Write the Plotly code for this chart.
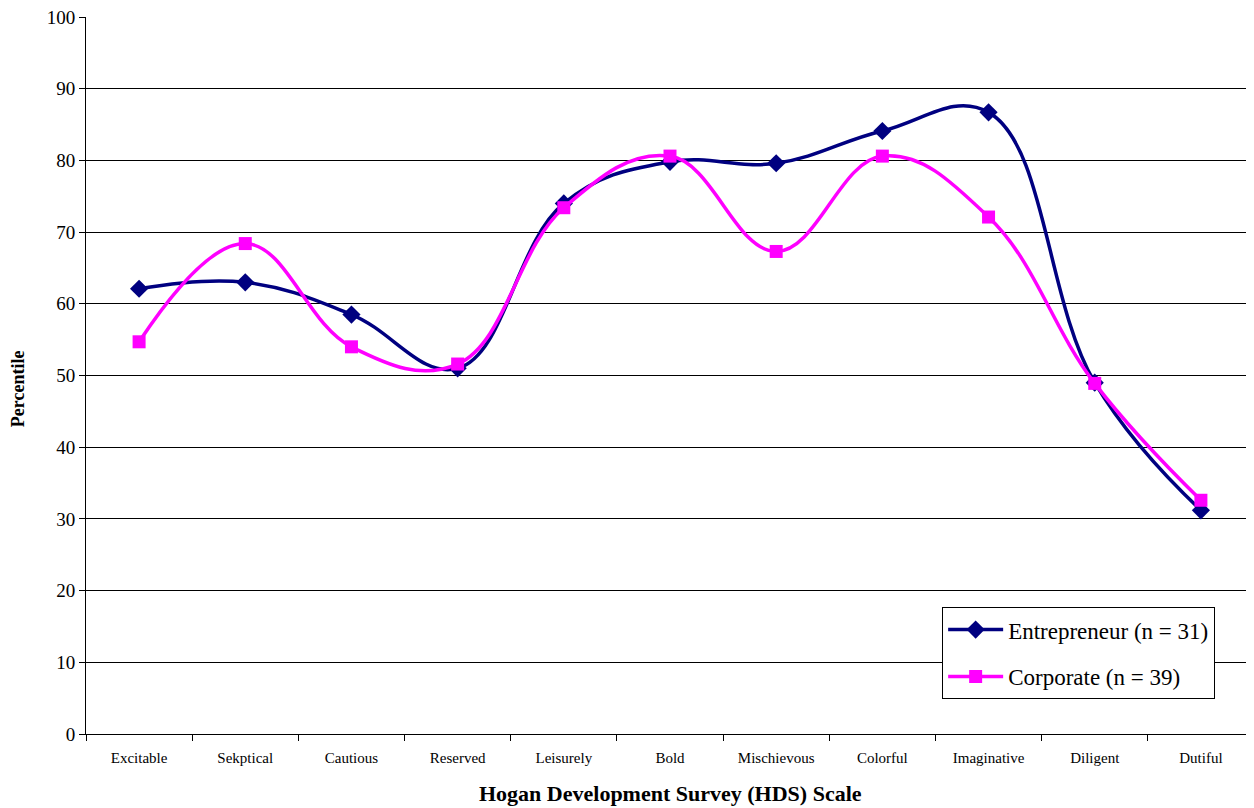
import plotly.graph_objects as go

categories = ["Excitable", "Sekptical", "Cautious", "Reserved", "Leisurely", "Bold",
              "Mischievous", "Colorful", "Imaginative", "Diligent", "Dutiful"]
entrepreneur = [62.1, 63.0, 58.5, 51.0, 74.0, 79.8, 79.6, 84.1, 86.7, 49.0, 31.2]
corporate = [54.7, 68.4, 54.0, 51.6, 73.4, 80.6, 67.3, 80.6, 72.1, 48.9, 32.6]
y_ticks = [0, 10, 20, 30, 40, 50, 60, 70, 80, 90, 100]

FONT = "Liberation Serif, Times New Roman, serif"

fig = go.Figure()
fig.add_trace(go.Scatter(
    x=categories, y=entrepreneur, name="Entrepreneur (n = 31)",
    mode="lines+markers", legendgroup="e",
    line=dict(color="#000080", width=3.5, shape="spline", smoothing=1.15),
    marker=dict(symbol="diamond", size=14, color="#000080"),
))
fig.add_trace(go.Scatter(
    x=categories, y=corporate, name="Corporate (n = 39)",
    mode="lines+markers", legendgroup="c",
    line=dict(color="#FF00FF", width=3.5, shape="spline", smoothing=1.15),
    marker=dict(symbol="square", size=13, color="#FF00FF"),
))

fig.update_layout(
    width=1246, height=800,
    margin=dict(l=78, r=0, t=9, b=74),
    paper_bgcolor="white", plot_bgcolor="white",
    font=dict(family=FONT, color="black"),
    showlegend=True,
    legend=dict(
        x=0.733, y=0.177, xanchor="left", yanchor="top",
        bgcolor="white", bordercolor="black", borderwidth=1,
        font=dict(family=FONT, size=23, color="black"),
        itemwidth=55, tracegroupgap=14, traceorder="grouped",
    ),
    xaxis=dict(
        type="category", tickson="boundaries", ticks="outside", ticklen=6,
        tickcolor="black", showline=True, linecolor="black", linewidth=1,
        showgrid=False, tickfont=dict(family=FONT, size=15),
        ticklabelstandoff=10,
        range=[-0.5, 10.5],
    ),
    yaxis=dict(
        range=[0, 100], tickvals=y_ticks, ticks="outside", ticklen=6,
        tickcolor="black", showline=True, linecolor="black", linewidth=1,
        showgrid=True, gridcolor="black", gridwidth=1,
        tickfont=dict(family=FONT, size=19), ticklabeloverflow="allow",
        zeroline=False,
    ),
    annotations=[
        dict(text="<b>Hogan Development Survey (HDS) Scale</b>", xref="paper", yref="paper",
             x=0.5, y=-0.0823, xanchor="center", yanchor="middle", showarrow=False,
             font=dict(family=FONT, size=22, color="black")),
        dict(text="<b>Percentile</b>", xref="paper", yref="paper", textangle=-90,
             x=-0.0582, y=0.481, xanchor="center", yanchor="middle", showarrow=False,
             font=dict(family=FONT, size=18, color="black")),
    ],
)

fig.write_html("out.html")
